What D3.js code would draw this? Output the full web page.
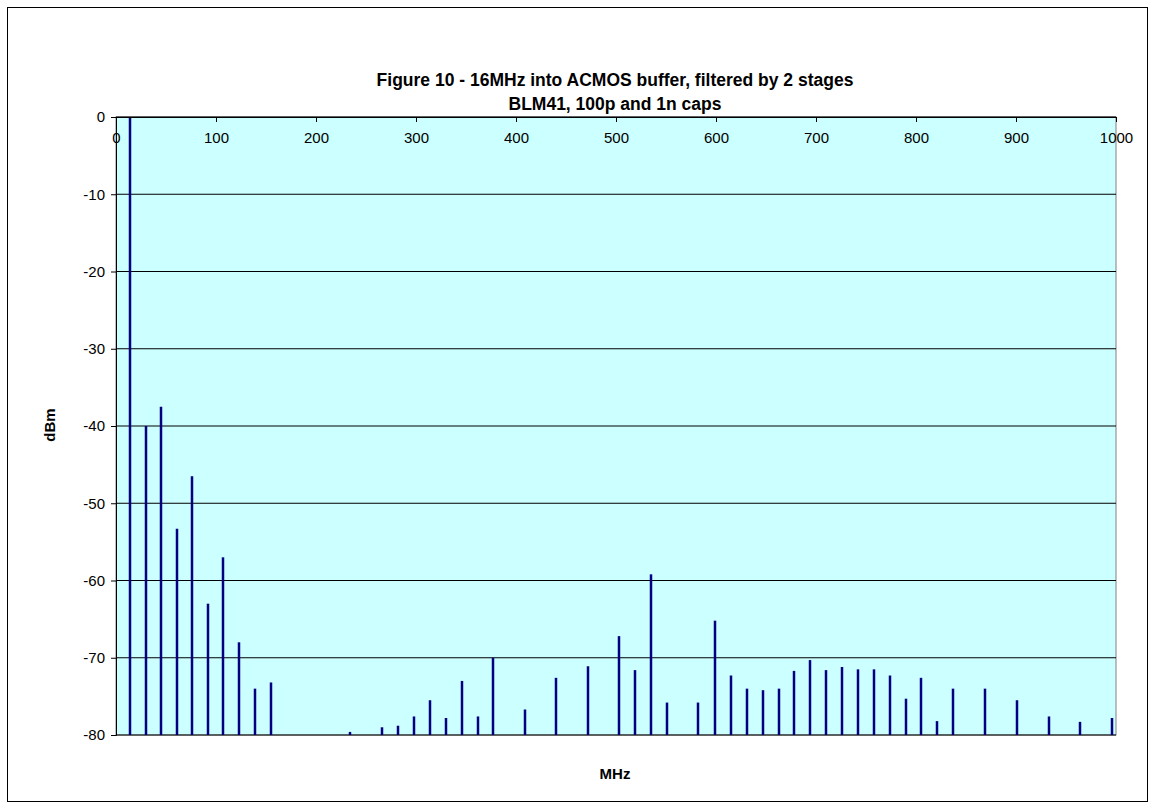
<!DOCTYPE html>
<html><head><meta charset="utf-8">
<script src="https://cdn.jsdelivr.net/npm/d3@7"></script>
<style>body{margin:0;background:#fff}text{font-family:Arial,"Liberation Sans",sans-serif}</style>
</head><body>
<svg width="1155" height="809"></svg>
<script>
// spectrum peaks (MHz, dBm)
var freqs = [14,30,45,61,76,92,107,123,139,155,234,266,282,298,314,330,346,362,377,409,440,472,503,519,535,551,582,599,615,631,647,663,678,694,710,726,742,758,774,790,805,821,837,869,901,933,964,996];
var levels = [0,-40,-37.5,-53.3,-46.5,-63,-57,-68,-74,-73.2,-79.6,-79,-78.8,-77.6,-75.5,-77.8,-73,-77.6,-70,-76.7,-72.6,-71.1,-67.2,-71.6,-59.2,-75.8,-75.8,-65.2,-72.3,-74,-74.2,-74,-71.7,-70.3,-71.6,-71.2,-71.5,-71.5,-72.3,-75.3,-72.6,-78.2,-74,-74,-75.5,-77.6,-78.3,-77.8];
var xTicks = d3.range(0, 1001, 100);
var yTicks = d3.range(0, -81, -10);

var svg = d3.select("svg");
var pLeft = 116, pRight = 1116, pTop = 117, pBottom = 735;

svg.append("rect").attr("x", 7.5).attr("y", 7.5).attr("width", 1140).attr("height", 794)
    .attr("fill", "#fff").attr("stroke", "#000");

var x = d3.scaleLinear().domain([0, 1000]).range([pLeft, pRight]);
var y = d3.scaleLinear().domain([-80, 0]).range([pBottom, pTop]);

svg.append("rect").attr("x", pLeft).attr("y", pTop).attr("width", pRight - pLeft).attr("height", pBottom - pTop)
    .attr("fill", "#ccffff").attr("stroke", "#808080");

// gridlines
svg.append("g").selectAll("line").data(yTicks).enter().append("line")
    .attr("x1", pLeft).attr("x2", pRight)
    .attr("y1", function (d) { return y(d); }).attr("y2", function (d) { return y(d); })
    .attr("stroke", "#000");

// spikes
svg.append("g").selectAll("line").data(freqs).enter().append("line")
    .attr("x1", function (d) { return x(d); }).attr("x2", function (d) { return x(d); })
    .attr("y1", y(-80))
    .attr("y2", function (d, i) { return y(levels[i]); })
    .attr("stroke", "#000080").attr("stroke-width", 2.5);

// y axis, plain hyphen for minus like the original
var yAxis = svg.append("g").attr("transform", "translate(" + pLeft + ",0)")
    .call(d3.axisLeft(y).tickValues(yTicks).tickFormat(function (d) { return String(d); }).tickSize(5).tickPadding(6));
yAxis.selectAll("text").attr("font-size", 15).attr("fill", "#000");
yAxis.select(".domain").attr("stroke", "#000");

// x axis sits at y=0 (top), labels below the line
var xAxis = svg.append("g").attr("transform", "translate(0," + pTop + ")")
    .call(d3.axisBottom(x).tickValues(xTicks).tickFormat(d3.format("d")).tickSize(5).tickPadding(10));
xAxis.selectAll("text").attr("font-size", 15).attr("fill", "#000");
xAxis.select(".domain").attr("stroke", "#000");

svg.append("text").attr("x", 615).attr("y", 86).attr("text-anchor", "middle")
    .attr("font-size", 17.5).attr("font-weight", "bold").text("Figure 10 - 16MHz into ACMOS buffer, filtered by 2 stages");
svg.append("text").attr("x", 615).attr("y", 110).attr("text-anchor", "middle")
    .attr("font-size", 17.5).attr("font-weight", "bold").text("BLM41, 100p and 1n caps");
svg.append("text").attr("x", 615).attr("y", 779).attr("text-anchor", "middle")
    .attr("font-size", 15).attr("font-weight", "bold").text("MHz");
svg.append("text").attr("transform", "translate(55,425) rotate(-90)").attr("text-anchor", "middle")
    .attr("font-size", 15).attr("font-weight", "bold").text("dBm");
</script>
</body></html>
